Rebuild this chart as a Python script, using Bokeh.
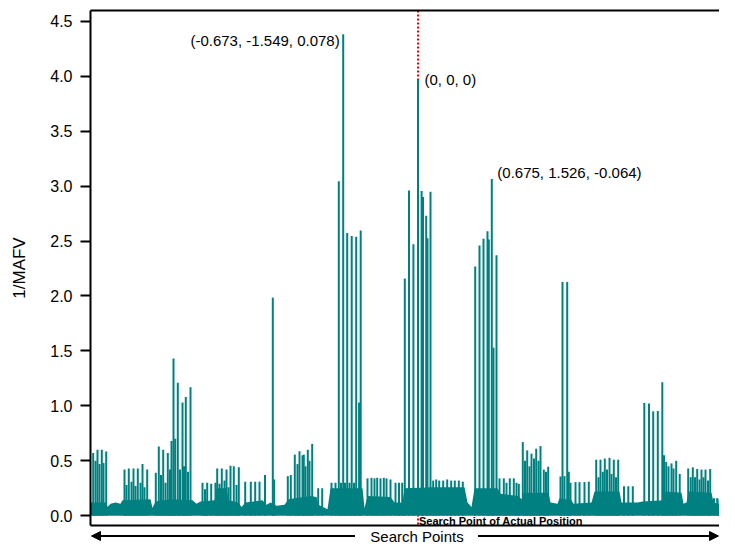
from bokeh.plotting import figure
from bokeh.models import (Range1d, Span, Label, Arrow, NormalHead, FixedTicker,
                          NumeralTickFormatter, LinearAxis)
from bokeh.layouts import column
from bokeh.embed import file_html
from bokeh.resources import INLINE

TEAL = "#008080"
FONT = "Liberation Sans"

# ---- data: search point index (x) and 1/MAFV value of individual spikes ----
spike_x = [2.7, 5.0, 7.0, 9.0, 11.3, 13.0, 15.7,
           34.0, 36.0, 38.3, 41.0, 43.0, 45.0, 47.3, 50.0, 52.0, 54.0, 56.7,
           65.3, 68.3, 70.5, 72.7, 75.0, 77.3, 79.5, 81.0, 83.0, 84.7, 87.3, 89.5, 92.0, 93.5, 95.3, 97.5, 100.0,
           112.0, 114.5, 116.7, 120.7, 125.0, 126.7, 129.0, 131.3, 134.0, 136.0, 138.0, 140.0, 143.3, 146.0, 148.3,
           154.7, 160.3, 164.7, 169.0, 174.5, 182.3, 183.7, 197.3, 200.3, 204.3, 207.0, 209.0, 212.0, 213.3, 215.0,
           217.3, 219.0, 221.7, 227.7, 231.7,
           241.0, 245.0, 248.3, 250.5, 252.7, 254.5, 256.7, 259.0, 261.2, 263.5, 265.7, 268.6, 270.2,
           277.0, 281.0, 284.0, 286.7, 290.0, 293.3, 296.0, 300.0, 305.0, 308.5, 311.7,
           314.3, 318.5, 322.9, 327.5, 331.1, 332.5, 335.7, 337.0, 340.0,
           342.7, 345.7, 348.7, 352.7, 356.7, 360.7, 364.3, 368.3, 372.3,
           384.7, 389.0, 393.0, 397.0, 398.3, 401.3, 403.0, 406.0,
           409.0, 413.3, 416.0, 419.3, 423.3, 426.0, 428.3,
           432.3, 434.5, 436.7, 439.0, 441.0, 443.5, 445.7, 448.0, 450.0, 453.3, 455.5, 457.7,
           470.0, 472.0, 474.0, 476.7, 478.3, 480.0,
           485.0, 489.0, 494.0, 498.3,
           505.7, 508.0, 510.0, 512.3, 514.3, 516.5, 519.0, 521.0, 523.3, 525.5, 527.7,
           533.5, 537.8, 542.3,
           553.8, 558.5, 562.7, 567.3, 571.8, 573.5, 575.7, 578.0, 581.0, 583.0, 585.7, 589.2,
           597.7, 600.2, 602.3, 604.5, 606.7, 609.0, 611.0, 613.0, 615.0, 617.5, 619.7,
           623.5, 626.7, 629.0, 631.7, 634.0,
           638.3, 641.0, 643.3]
spike_y = [0.57, 0.50, 0.60, 0.47, 0.60, 0.48, 0.585,
           0.42, 0.28, 0.43, 0.31, 0.43, 0.27, 0.43, 0.30, 0.47, 0.26, 0.42,
           0.39, 0.63, 0.37, 0.60, 0.30, 0.57, 0.42, 0.68, 1.43, 0.70, 1.21, 0.42, 1.03, 0.45, 1.08, 0.40, 1.17,
           0.30, 0.24, 0.30, 0.29, 0.30, 0.43, 0.29, 0.43, 0.32, 0.42, 0.26, 0.455, 0.45, 0.28, 0.44,
           0.31, 0.31, 0.31, 0.31, 0.37, 1.985, 0.33, 0.36, 0.37, 0.556, 0.47, 0.587, 0.55, 0.556, 0.45,
           0.60, 0.50, 0.654, 0.25, 0.25,
           0.30, 0.30, 3.045, 0.30, 4.381, 0.30, 2.574, 0.30, 2.545, 0.30, 2.54, 1.03, 2.595,
           0.34, 0.345, 0.34, 0.345, 0.34, 0.345, 0.34, 0.33, 0.30, 0.30, 0.30,
           2.158, 2.96, 2.47, 3.967, 2.955, 2.90, 2.73, 2.525, 2.948,
           0.32, 0.33, 0.32, 0.32, 0.33, 0.32, 0.32, 0.32, 0.31,
           2.268, 2.46, 2.52, 2.59, 2.515, 3.065, 1.53, 2.37,
           0.34, 0.34, 0.30, 0.34, 0.34, 0.30, 0.29,
           0.67, 0.50, 0.595, 0.45, 0.565, 0.52, 0.61, 0.50, 0.634, 0.42, 0.40, 0.446,
           0.357, 2.128, 0.36, 2.128, 0.40, 0.30,
           0.306, 0.306, 0.306, 0.31,
           0.51, 0.35, 0.51, 0.40, 0.52, 0.42, 0.527, 0.38, 0.51, 0.35, 0.51,
           0.268, 0.268, 0.268,
           1.027, 1.022, 0.95, 0.953, 1.215, 0.55, 0.49, 0.45, 0.476, 0.43, 0.50, 0.38,
           0.43, 0.35, 0.44, 0.35, 0.425, 0.33, 0.42, 0.35, 0.42, 0.32, 0.425,
           0.16, 0.16, 0.15, 0.14, 0.11,
           0.476, 0.49, 0.50]

# upper envelope of the dense low-level band of search points
band_x = [0, 16, 17, 20, 25, 30, 32, 60, 62, 65, 80, 102, 106, 110, 124, 126, 136, 138, 148, 151,
          155, 172, 176, 180, 186, 194, 198, 220, 226, 228, 237, 240, 272, 274, 277, 300, 304, 312,
          314, 342, 374, 377, 381, 384, 407, 410, 428, 431, 433, 458, 460, 467, 469, 481, 483, 501,
          504, 529, 531, 547, 552, 573, 575, 591, 593, 596, 598, 621, 623, 633, 635, 637, 638, 645]
band_y = [0.12, 0.12, 0.08, 0.11, 0.12, 0.11, 0.14, 0.15, 0.07, 0.13, 0.15, 0.14, 0.11, 0.13, 0.14,
          0.25, 0.25, 0.14, 0.12, 0.08, 0.12, 0.14, 0.10, 0.12, 0.09, 0.10, 0.15, 0.18, 0.17, 0.10,
          0.06, 0.25, 0.25, 0.07, 0.18, 0.17, 0.12, 0.12, 0.25, 0.26, 0.26, 0.12, 0.08, 0.25, 0.25,
          0.20, 0.18, 0.15, 0.21, 0.21, 0.12, 0.11, 0.16, 0.14, 0.11, 0.12, 0.22, 0.22, 0.12, 0.12,
          0.13, 0.14, 0.22, 0.21, 0.11, 0.12, 0.22, 0.21, 0.12, 0.10, 0.06, 0.10, 0.22, 0.22]

y_ticks = [0.0, 0.5, 1.0, 1.5, 2.0, 2.5, 3.0, 3.5, 4.0, 4.5]

actual_x = 327.5
ann_x = [252.7, 327.5, 401.3]
ann_y = [4.381, 3.967, 3.065]
ann_text = ["(-0.673, -1.549, 0.078)", "(0, 0, 0)", "(0.675, 1.526, -0.064)"]

# ---- main plot ----
p = figure(width=719, height=527, x_range=Range1d(0, 629), y_range=Range1d(-0.089, 4.598),
           output_backend="svg", toolbar_location=None, x_axis_location=None,
           min_border_left=90, min_border_right=0, min_border_top=10, min_border_bottom=2)
p.grid.visible = False
p.outline_line_color = None

ax = p.yaxis[0]
ax.ticker = FixedTicker(ticks=y_ticks)
ax.formatter = NumeralTickFormatter(format="0.0")
ax.axis_line_width = 2
ax.major_tick_line_width = 2
ax.major_tick_out = 10
ax.major_tick_in = 0
ax.minor_tick_line_color = None
ax.major_label_standoff = 8
ax.major_label_text_font = FONT
ax.major_label_text_font_size = "16px"
ax.major_label_text_color = "black"
ax.axis_label = "1/MAFV"
ax.axis_label_text_font = FONT
ax.axis_label_text_font_size = "17px"
ax.axis_label_text_font_style = "normal"
ax.axis_label_text_color = "black"
ax.axis_label_standoff = 18

for side in ("above", "below"):
    frame_ax = LinearAxis(ticker=FixedTicker(ticks=[]), axis_line_width=2,
                          major_tick_out=0, major_tick_in=0, minor_tick_line_color=None,
                          major_label_text_font_size="0px", major_label_standoff=0)
    p.add_layout(frame_ax, side)

p.add_layout(Span(location=actual_x, dimension="height", line_color="red",
                  line_dash="2 2", line_width=2, level="underlay"))

p.varea(x=band_x, y1=0, y2=band_y, fill_color=TEAL, fill_alpha=1)
p.segment(x0=spike_x, y0=0, x1=spike_x, y1=spike_y, line_color=TEAL, line_width=2)

offsets = [(-3.5, -6, "right"), (6.5, 0, "left"), (5.5, 6.5, "left")]
for (xo, yo, al), xx, yy, tt in zip(offsets, ann_x, ann_y, ann_text):
    p.add_layout(Label(x=xx, y=yy, x_offset=xo, y_offset=yo, text=tt, text_align=al,
                       text_baseline="middle", text_font=FONT, text_font_size="15px",
                       text_color="black"))

p.add_layout(Label(x=actual_x, y=-0.052, x_offset=1, text="Search Point of Actual Position",
                   text_align="left", text_baseline="middle", text_font=FONT,
                   text_font_size="11px", text_font_style="bold", text_color="black"))

# ---- x-axis title with arrows ----
p2 = figure(width=719, height=17, x_range=p.x_range, y_range=Range1d(0, 17),
            output_backend="svg", toolbar_location=None, x_axis_location=None, y_axis_location=None,
            min_border_left=90, min_border_right=0, min_border_top=0, min_border_bottom=0)
p2.grid.visible = False
p2.outline_line_color = None

text_x = 326.5
p2.add_layout(Label(x=text_x, y=8.5, text="Search Points", text_align="center",
                    text_baseline="middle", text_font=FONT, text_font_size="15px",
                    text_color="black"))
p2.add_layout(Arrow(end=NormalHead(size=9, fill_color="black", line_color="black"),
                    x_start=text_x - 62, y_start=8.5, x_end=1, y_end=8.5,
                    line_width=2, line_color="black"))
p2.add_layout(Arrow(end=NormalHead(size=9, fill_color="black", line_color="black"),
                    x_start=text_x + 61, y_start=8.5, x_end=628, y_end=8.5,
                    line_width=2, line_color="black"))

layout = column(p, p2, spacing=0)
open("out.html", "w").write(file_html(layout, INLINE))
